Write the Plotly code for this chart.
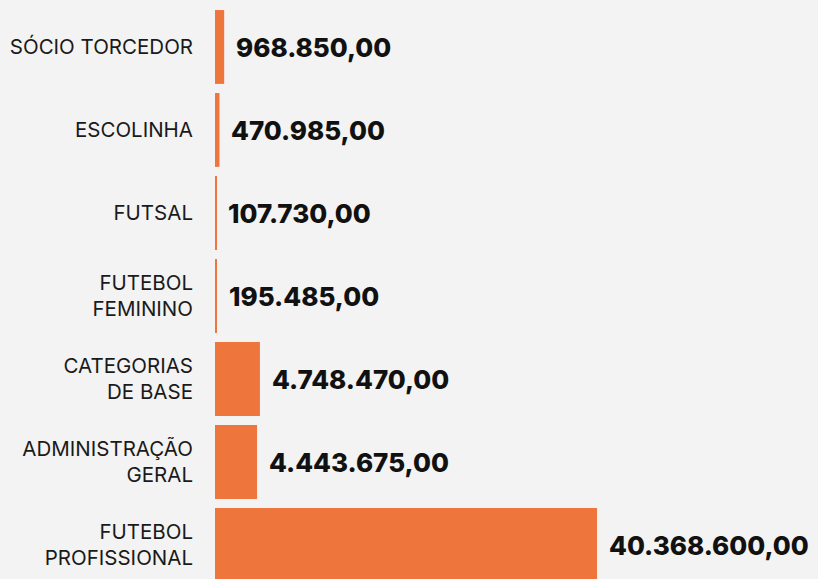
import plotly.graph_objects as go

categories = ["SÓCIO TORCEDOR", "ESCOLINHA", "FUTSAL", "FUTEBOL<br>FEMININO",
              "CATEGORIAS<br>DE BASE", "ADMINISTRAÇÃO<br>GERAL", "FUTEBOL<br>PROFISSIONAL"]
values = [968850, 470985, 107730, 195485, 4748470, 4443675, 40368600]
value_labels = ["968.850,00", "470.985,00", "107.730,00", "195.485,00",
                "4.748.470,00", "4.443.675,00", "40.368.600,00"]

bar_color = "#EE763D"
bg = "#F3F3F3"

fig = go.Figure(go.Bar(
    x=values, y=categories, orientation="h",
    marker=dict(color=bar_color, line=dict(width=0)),
    hoverinfo="skip",
))

for cat, v, lab in zip(categories, values, value_labels):
    fig.add_annotation(x=v, y=cat, text=lab, showarrow=False, xanchor="left",
                       xshift=10, yshift=-1,
                       font=dict(family="Inter", size=26, color="#111111", weight=800))

fig.update_layout(
    width=818, height=579,
    margin=dict(l=215, r=0, t=0, b=0),
    paper_bgcolor=bg, plot_bgcolor=bg,
    bargap=0.11,
    showlegend=False,
    xaxis=dict(range=[0, 63720000], visible=False, fixedrange=True),
    yaxis=dict(type="category", range=[6.41, -0.566],
               showgrid=False, zeroline=False, showline=False,
               ticks="", ticklabelstandoff=21,
               tickfont=dict(family="Inter", size=20.5, color="#1a1a1a")),
)

fig.write_html("out.html", config={"displayModeBar": False},
               post_script="document.body.style.margin='0';"
                           "document.body.style.background='#F3F3F3';"
                           "document.body.style.overflow='hidden';")
